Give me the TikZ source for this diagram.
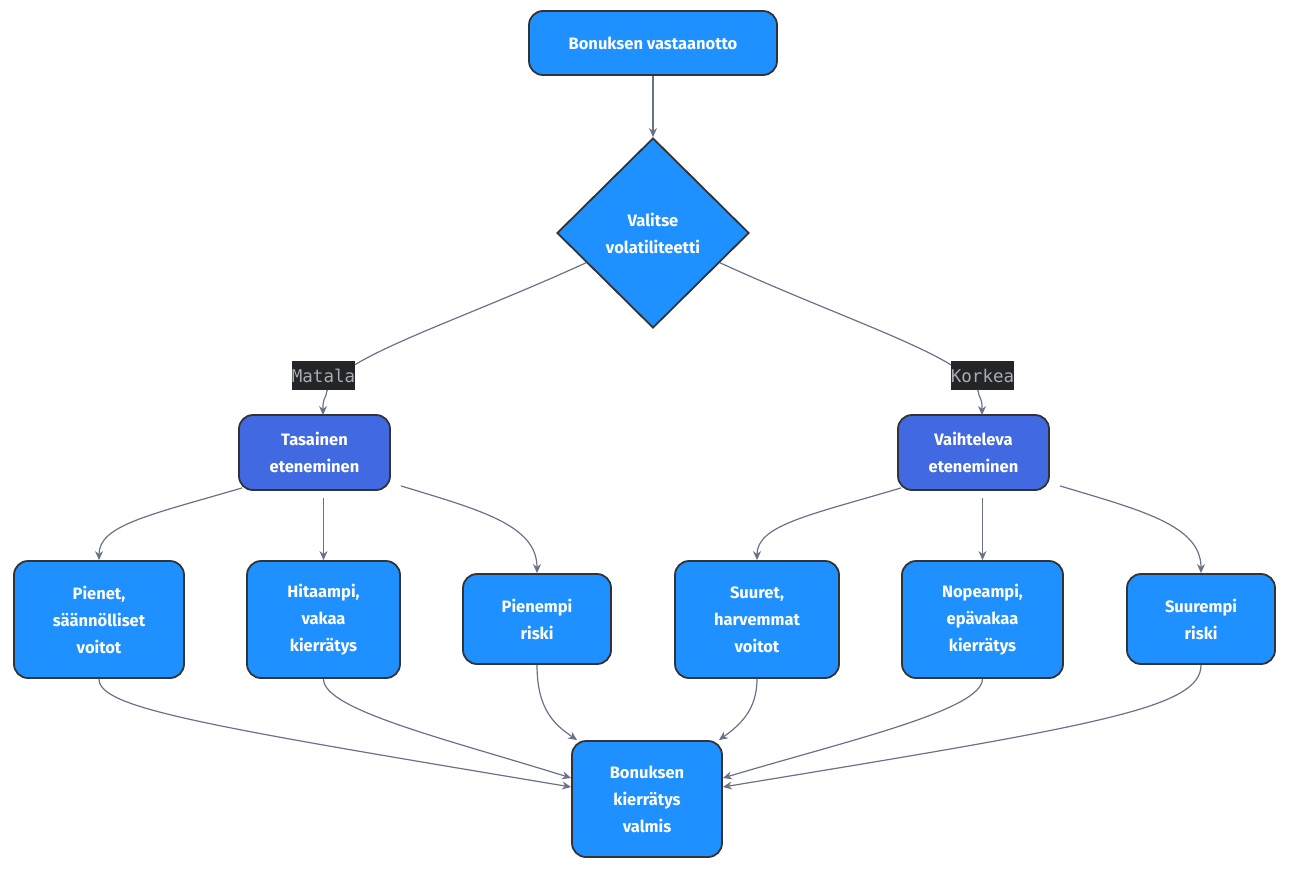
\documentclass[tikz,border=0pt]{standalone}
\usepackage{fontspec}
\setmainfont{Fira Sans}
\newfontfamily\lblfont{DejaVu Sans Mono}
\usetikzlibrary{shapes.geometric,arrows.meta,calc}
\definecolor{nodeblue}{HTML}{1E90FF}
\definecolor{royal}{HTML}{4169E1}
\definecolor{edgec}{HTML}{6A728A}
\definecolor{lblbg}{HTML}{232528}
\definecolor{lbltx}{HTML}{A9ACB2}
\tikzset{
  box/.style={draw=black!80, line width=1.8pt, fill=nodeblue, rounded corners=14pt,
    text=white, font=\bfseries\fontsize{16.5}{27}\selectfont, align=center, inner sep=0pt},
  royalbox/.style={box, fill=royal},
  dia/.style={draw=black!80, line width=1.8pt, fill=nodeblue, diamond, inner sep=0pt,
    minimum width=192pt, minimum height=190pt, text=white,
    font=\bfseries\fontsize{16.5}{27}\selectfont, align=center},
  lbl/.style={fill=lblbg, text=lbltx, font=\lblfont\fontsize{17.5}{19}\selectfont,
    inner sep=0pt, minimum width=61pt, minimum height=29pt},
  conn/.style={draw=edgec, line width=1.2pt, -{Stealth[length=9pt,width=8pt]}},
}
\begin{document}
\begin{tikzpicture}[x=1pt,y=-1pt]
\useasboundingbox (0,0) rectangle (1289,870);
\node[box, minimum width=248pt, minimum height=64pt] (s) at (653,43) {Bonuksen vastaanotto};
\node[dia] (d) at (653,233) {Valitse\\volatiliteetti};
\node[royalbox, minimum width=151pt, minimum height=75pt] (t) at (314.5,452.5) {Tasainen\\eteneminen};
\node[royalbox, minimum width=151pt, minimum height=75pt] (v) at (973.5,452.5) {Vaihteleva\\eteneminen};
\node[box, minimum width=170pt, minimum height=117pt] (p1) at (99,619.5) {Pienet,\\säännölliset\\voitot};
\node[box, minimum width=153pt, minimum height=117pt] (p2) at (323.5,619.5) {Hitaampi,\\vakaa\\kierrätys};
\node[box, minimum width=148pt, minimum height=90pt] (p3) at (537,619) {Pienempi\\riski};
\node[box, minimum width=164pt, minimum height=117pt] (q1) at (757,619.5) {Suuret,\\harvemmat\\voitot};
\node[box, minimum width=161pt, minimum height=117pt] (q2) at (982.5,619.5) {Nopeampi,\\epävakaa\\kierrätys};
\node[box, minimum width=148pt, minimum height=90pt] (q3) at (1201,619) {Suurempi\\riski};
\node[box, minimum width=150pt, minimum height=116pt] (f) at (647,799) {Bonuksen\\kierrätys\\valmis};

\draw[conn] (s.south) -- (d.north);
\draw[conn] ($(d.west)!0.31!(d.south)$) .. controls (450,325) and (330,360) .. (326,395) .. controls (323,402) .. (323,415);
\draw[conn] ($(d.east)!0.31!(d.south)$) .. controls (856,325) and (976,360) .. (979,395) .. controls (982,402) .. (982,415);
\node[lbl] (lm) at (323.5,375.5) {Matala};
\node[lbl] (lk) at (982.5,375.5) {Korkea};

\draw[conn] ($(t.south west)+(4,-3)$) .. controls (150,515) and (99,525) .. (p1.north);
\draw[conn] (p2.north |- t.south) ++(0,7) -- (p2.north);
\draw[conn] ($(t.south east)+(10,-5)$) .. controls (480,510) and (537,525) .. (p3.north);
\draw[conn] ($(v.south west)+(4,-3)$) .. controls (810,515) and (757,525) .. (q1.north);
\draw[conn] (q2.north |- v.south) ++(0,7) -- (q2.north);
\draw[conn] ($(v.south east)+(10,-5)$) .. controls (1140,510) and (1201,525) .. (q3.north);

\draw[conn] (p1.south) .. controls (99,708) and (200,725) .. ($(f.west)+(0,-12)$);
\draw[conn] (p2.south) .. controls (323,710) and (450,740) .. ($(f.west)+(0,-21)$);
\draw[conn] (p3.south) .. controls (537,710) and (555,725) .. ($(f.north west)+(6,0)$);
\draw[conn] (q1.south) .. controls (757,710) and (740,725) .. ($(f.north east)+(-4,0)$);
\draw[conn] (q2.south) .. controls (982,710) and (850,740) .. ($(f.east)+(0,-21)$);
\draw[conn] (q3.south) .. controls (1201,708) and (1100,725) .. ($(f.east)+(0,-12)$);
\end{tikzpicture}
\end{document}
